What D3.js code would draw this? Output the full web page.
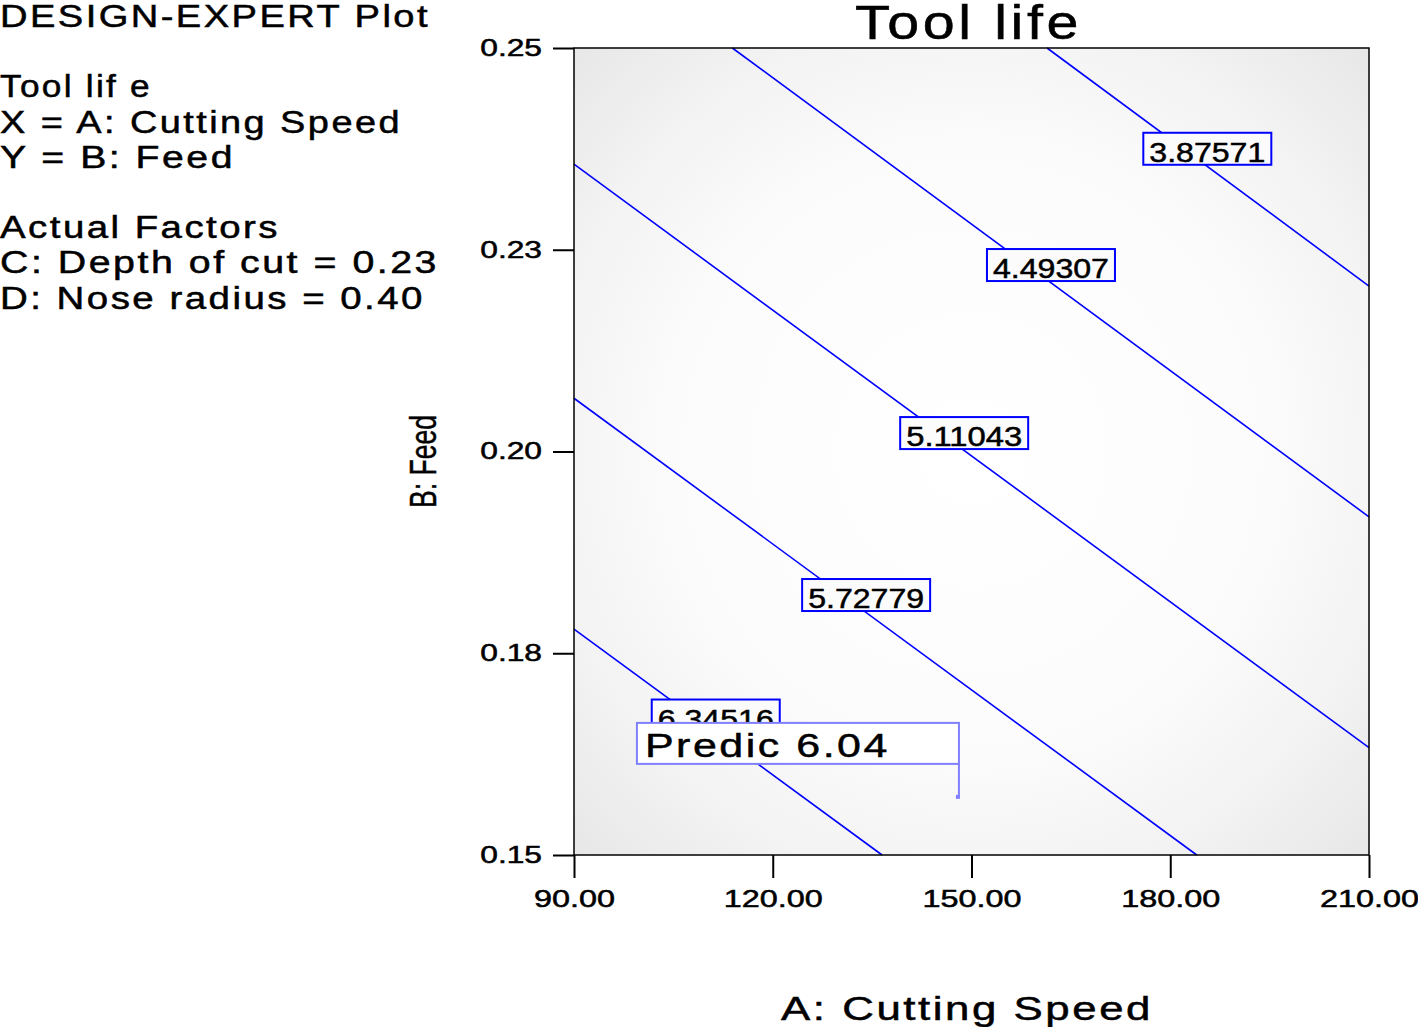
<!DOCTYPE html>
<html>
<head>
<meta charset="utf-8">
<script src="https://cdn.jsdelivr.net/npm/d3@7/dist/d3.min.js"></script>
<style>
  body { margin: 0; background: #fff; }
  text { font-family: "Liberation Sans", Arial, sans-serif; fill: #000; stroke: #000; stroke-width: 0.5px; }
</style>
</head>
<body>
<div id="chart"></div>
<script>
// contour levels and where each straight contour enters / leaves the plot
const levels = [3.87571, 4.49307, 5.11043, 5.72779, 6.34516];
const lineStart = [[161.4, 0.25], [113.9, 0.25], [90, 0.2356], [90, 0.2066], [90, 0.1780]];
const lineEnd = [[210, 0.2205], [210, 0.1919], [210, 0.1633], [184.0, 0.15], [136.5, 0.15]];
const labelAt = [178.5, 154.9, 141.8, 127.0, 104.3]; // x where the label box sits on the line

const xTicks = [90, 120, 150, 180, 210];
const xTickLabels = ["90.00", "120.00", "150.00", "180.00", "210.00"];
const yTicks = [0.15, 0.175, 0.2, 0.225, 0.25];
const yTickLabels = ["0.15", "0.18", "0.20", "0.23", "0.25"];

const predPoint = [147.8, 0.1572];
const predLabel = "Predic 6.04";

const infoText = [
  "DESIGN-EXPERT Plot",
  "",
  "Tool lif e",
  "X = A:  Cutting Speed",
  "Y  = B:  Feed",
  "",
  "Actual Factors",
  "C:  Depth of  cut  = 0.23",
  "D:  Nose radius  = 0.40"
];
const infoWidth = [430, 0, 152, 402, 235, 0, 280, 439, 425];

const W = 1418, H = 1027;
const pl = 574, pr = 1369, pt = 48, pb = 855;

// the plot's font is drawn wide, so stretch text a bit
function widen(sel, factor) {
  sel.each(function() {
    const w = this.getComputedTextLength();
    d3.select(this)
      .attr("textLength", w * factor)
      .attr("lengthAdjust", "spacingAndGlyphs");
  });
}

const svg = d3.select("#chart").append("svg")
  .attr("width", W)
  .attr("height", H);

const x = d3.scaleLinear().domain([90, 210]).range([pl, pr]);
const y = d3.scaleLinear().domain([0.15, 0.25]).range([pb, pt]);

// shaded background
const defs = svg.append("defs");
const grad = defs.append("radialGradient").attr("id", "bg")
  .attr("cx", "0.5").attr("cy", "0.5").attr("r", "0.72");
grad.append("stop").attr("offset", "0%").attr("stop-color", "#ffffff");
grad.append("stop").attr("offset", "50%").attr("stop-color", "#fcfcfc");
grad.append("stop").attr("offset", "75%").attr("stop-color", "#f3f3f3");
grad.append("stop").attr("offset", "100%").attr("stop-color", "#e6e6e6");

svg.append("rect")
  .attr("x", pl).attr("y", pt)
  .attr("width", pr - pl).attr("height", pb - pt)
  .attr("fill", "url(#bg)");

// contour lines
const contours = levels.map((lv, i) => ({ level: lv, a: lineStart[i], b: lineEnd[i], at: labelAt[i] }));

svg.append("g").selectAll("line")
  .data(contours)
  .enter()
  .append("line")
  .attr("x1", d => x(d.a[0]))
  .attr("y1", d => y(d.a[1]))
  .attr("x2", d => x(d.b[0]))
  .attr("y2", d => y(d.b[1]))
  .attr("stroke", "#0000ff")
  .attr("stroke-width", 1.6);

// frame
svg.append("rect")
  .attr("x", pl).attr("y", pt)
  .attr("width", pr - pl).attr("height", pb - pt)
  .attr("fill", "none")
  .attr("stroke", "#000")
  .attr("stroke-width", 1.5);

// contour labels
const boxW = 128, boxH = 32;
const lab = svg.append("g").selectAll("g")
  .data(contours)
  .enter()
  .append("g")
  .attr("transform", d => {
    const t = (d.at - d.a[0]) / (d.b[0] - d.a[0]);
    const yv = d.a[1] + t * (d.b[1] - d.a[1]);
    return `translate(${x(d.at) - 17}, ${y(yv) + 1})`;
  });
lab.append("rect")
  .attr("width", boxW).attr("height", boxH)
  .attr("fill", "#fbfbfb")
  .attr("stroke", "#0000ff")
  .attr("stroke-width", 2);
lab.append("text")
  .attr("x", 6).attr("y", 29)
  .attr("font-size", 27)
  .attr("textLength", 116)
  .attr("lengthAdjust", "spacingAndGlyphs")
  .text(d => d.level.toFixed(5));

// prediction flag
const px = x(predPoint[0]), py = y(predPoint[1]);
const pg = svg.append("g");
pg.append("rect")
  .attr("x", px - 320).attr("y", py - 74)
  .attr("width", 322).attr("height", 41)
  .attr("fill", "#ffffff")
  .attr("stroke", "#8080ff")
  .attr("stroke-width", 2);
pg.append("line")
  .attr("x1", px + 2).attr("y1", py - 33)
  .attr("x2", px + 2).attr("y2", py)
  .attr("stroke", "#8080ff")
  .attr("stroke-width", 2);
pg.append("rect")
  .attr("x", px - 1).attr("y", py - 2)
  .attr("width", 4).attr("height", 4)
  .attr("fill", "#8080ff");
pg.append("text")
  .attr("x", px - 312).attr("y", py - 40)
  .attr("font-size", 34)
  .attr("letter-spacing", 2)
  .attr("textLength", 245)
  .attr("lengthAdjust", "spacingAndGlyphs")
  .text(predLabel);

// axes
const xAxis = d3.axisBottom(x)
  .tickValues(xTicks)
  .tickSize(23)
  .tickPadding(12)
  .tickFormat((d, i) => xTickLabels[i]);
const gx = svg.append("g")
  .attr("transform", `translate(0, ${pb})`)
  .call(xAxis);
gx.select(".domain").remove();
gx.selectAll("line").attr("stroke", "#000").attr("stroke-width", 2);
gx.selectAll("text")
  .attr("font-size", 24)
  .attr("font-family", "Liberation Sans, Arial, sans-serif")
  .call(widen, 1.35);

const yAxis = d3.axisLeft(y)
  .tickValues(yTicks)
  .tickSize(21)
  .tickPadding(11)
  .tickFormat((d, i) => yTickLabels[i]);
const gy = svg.append("g")
  .attr("transform", `translate(${pl}, 0)`)
  .call(yAxis);
gy.select(".domain").remove();
gy.selectAll("line").attr("stroke", "#000").attr("stroke-width", 2);
gy.selectAll("text")
  .attr("font-size", 23)
  .attr("font-family", "Liberation Sans, Arial, sans-serif")
  .call(widen, 1.38);

// titles
svg.append("text")
  .attr("x", 855).attr("y", 39)
  .attr("font-size", 48)
  .attr("letter-spacing", 3)
  .attr("textLength", 227)
  .attr("lengthAdjust", "spacingAndGlyphs")
  .text("Tool life");

svg.append("text")
  .attr("x", 781).attr("y", 1020)
  .attr("font-size", 34)
  .attr("letter-spacing", 2)
  .attr("textLength", 372)
  .attr("lengthAdjust", "spacingAndGlyphs")
  .text("A: Cutting Speed");

svg.append("text")
  .attr("transform", "translate(436, 508) rotate(-90)")
  .attr("font-size", 36)
  .attr("textLength", 93)
  .attr("lengthAdjust", "spacingAndGlyphs")
  .text("B: Feed");

// info block
svg.append("g").selectAll("text")
  .data(infoText)
  .enter()
  .append("text")
  .filter(d => d !== "")
  .attr("x", 0)
  .attr("y", d => 27 + infoText.indexOf(d) * 35.2)
  .attr("font-size", 31)
  .attr("letter-spacing", 2)
  .attr("textLength", d => infoWidth[infoText.indexOf(d)])
  .attr("lengthAdjust", "spacingAndGlyphs")
  .text(d => d);
</script>
</body>
</html>
